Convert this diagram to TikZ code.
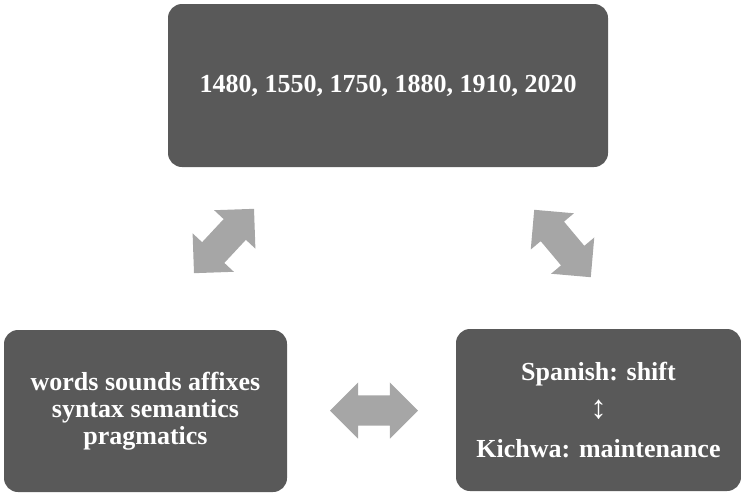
\documentclass[tikz,border=0pt]{standalone}
\usepackage{fontspec}
\setmainfont{Liberation Serif}
\usetikzlibrary{shapes.arrows,calc}
\definecolor{boxgray}{HTML}{595959}
\definecolor{arrowgray}{HTML}{A6A6A6}
\tikzset{
  stagebox/.style={rectangle, rounded corners=14pt, fill=boxgray, text=white,
    font=\bfseries\fontsize{26}{27}\selectfont, align=center, inner sep=0pt},
  linkarrow/.style={double arrow, fill=arrowgray, inner sep=15pt,
    double arrow head extend=13pt, minimum height=88pt}
}

\begin{document}
\begin{tikzpicture}[x=1pt,y=1pt]
  \useasboundingbox (0,0) rectangle (741,-493);
  % the three boxes
  \node[stagebox, minimum width=440pt, minimum height=163pt] (years) at (388,-85.5)
    {1480, 1550, 1750, 1880, 1910, 2020};
  \node[stagebox, minimum width=283pt, minimum height=162pt] (levels) at (145.5,-411)
    {words sounds affixes\\syntax semantics\\pragmatics};
  \node[stagebox, minimum width=285pt, minimum height=162pt,
    font=\bfseries\fontsize{26}{38.5}\selectfont] (outcome) at (598.5,-410)
    {Spanish: shift\\\fontsize{33}{38.5}\selectfont↕\\Kichwa: maintenance};
  % block arrows in between
  \node[linkarrow, rotate=47] (yearslevels) at (224,-241) {};
  \node[linkarrow, rotate=-50] (yearsoutcome) at (562.5,-243.5) {};
  \node[linkarrow] (levelsoutcome) at ($(levels.east)!0.5!(outcome.west)+(2.5,0)$) {};
\end{tikzpicture}
\end{document}
